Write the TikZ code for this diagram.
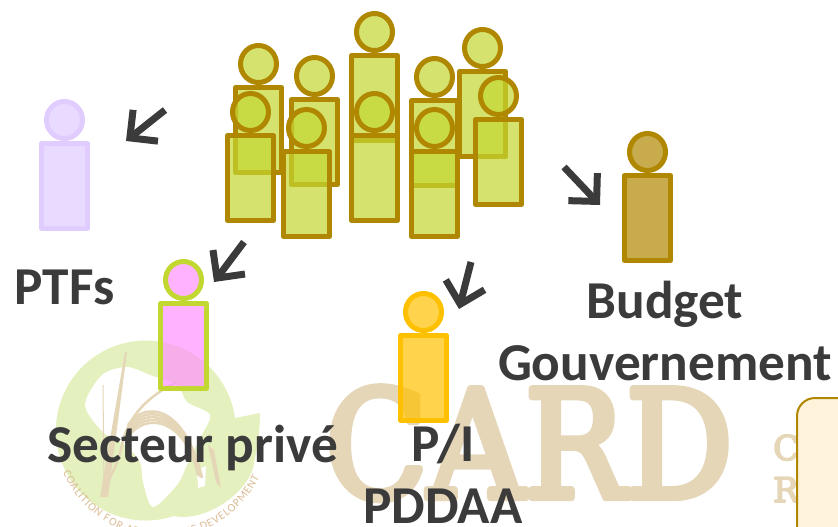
\documentclass[tikz,border=0pt]{standalone}
\usepackage{fontspec}
\setmainfont{Carlito}
\newfontfamily\cardfont{DejaVu Serif}[FakeBold=5]
\usetikzlibrary{arrows.meta,positioning,shapes.geometric,decorations.text}
\definecolor{darktext}{HTML}{3B3B3B}
\definecolor{tan}{HTML}{E5D6B8}
\definecolor{logogreen}{HTML}{E4F0BE}
\definecolor{olive}{HTML}{AF8700}
\definecolor{lime}{HTML}{C3D731}
\definecolor{lilac}{HTML}{E0CCFF}
\definecolor{pinkfill}{HTML}{FF92FF}
\definecolor{amber}{HTML}{FFC000}
\definecolor{boxfill}{HTML}{FFF3DC}

\begin{document}
\begin{tikzpicture}[x=1pt,y=-1pt,line join=round]
	  \tikzset{body/.style={rectangle,draw=#1,line width=5pt,inner sep=0pt,minimum width=46pt,minimum height=85pt,fill opacity=0.7}}
	  \tikzset{head/.style={ellipse,draw=#1,line width=5pt,inner sep=0pt,minimum width=36pt,minimum height=37pt,fill opacity=0.7}}
	  \tikzset{label/.style={font=\fontsize{53.3}{62}\selectfont\bfseries,text=darktext,align=center,inner sep=0pt}}
	  \tikzset{arrow/.style={-{Straight Barb[length=20pt,width=40pt]},line width=7pt,draw=darktext}}
	  \useasboundingbox (0,0) rectangle (838,527);

	  % logo
	  \fill[logogreen] (235,418) arc[start angle=8,end angle=288,radius=90pt]
	  .. controls (205,522) and (245,495) .. (253,468) .. controls (257,450) and (260,430) .. (260,413) -- cycle;
	  \fill[white] plot[smooth cycle,tension=0.5] coordinates {(102,375) (127,367) (150,375) (177,385) (187,402) (210,415) (200,438) (187,465) (177,485) (153,507) (143,482) (140,462) (125,445) (103,432) (85,405)};
	  \fill[white] (197,470) -- (206,466) -- (205,486) -- (198,488) -- cycle;
	  \fill[tan] (125,352) -- (127,352) -- (108,497) -- (100,497) -- cycle;
	  \draw[tan,line width=1pt] (103,385) -- (104,490);
	  \draw[tan,line width=2.5pt] (177,382) .. controls (150,395) and (128,415) .. (122,445) .. controls (118,465) and (108,480) .. (104,492);
	  \foreach \off in {0,3,6,9,12}
	  \draw[tan,line width=2.5pt] (128,{425+\off}) .. controls (145,{400+\off}) and (185,{405+\off}) .. ({202-\off/3},{478-\off/4});
	  \fill[tan] (208,445) -- (214,450) -- (221,488) -- (216,482) -- cycle;
	  \path[decorate,decoration={text along path,text align=fit to path,
	  text={|\fontsize{11.5}{11.5}\selectfont\color{tan!70!brown}|COALITION FOR AFRICAN RICE DEVELOPMENT}}]
	  (63,472) arc[start angle=203,end angle=334,radius=108pt];

	  \node[anchor=base west,font=\cardfont\fontsize{149}{149}\selectfont,text=tan,inner sep=0pt,xscale=0.9,transform shape] (card) at (325,497.5) {CARD};
	  \node[anchor=base west,font=\cardfont\fontsize{34}{34}\selectfont,text=tan,inner sep=0pt] (cardC) at (773,460) {C};
	  \node[anchor=base west,font=\cardfont\fontsize{34}{34}\selectfont,text=tan,inner sep=0pt] (cardR) at (773,502) {R};
	  \draw[olive,line width=2pt,fill=boxfill,rounded corners=18pt] (797,580) -- (797,398) -- (880,398) -- (880,580) -- cycle;

	  % groupe
	  \foreach \name/\x/\y in {a/258.5/130,b/314.5/142,c/374.5/98,d/434.5/143,e/482.5/114,f/250.5/178,g/306.5/194,h/374.5/178,i/434.5/194,j/498.5/162}{
	  \node[body=olive,fill=lime] (\name) at (\x,\y) {};
	  \node[head=olive,fill=lime] (\name head) [above=0pt of \name] {};
	  }

	  % acteurs
	  \node[body=lilac,fill=lilac] (ptf) at (64.5,186) {};
	  \node[head=lilac,fill=lilac] (ptf head) [above=0pt of ptf] {};
	  \node[body=lime,fill=pinkfill] (prive) at (183.5,346) {};
	  \node[head=lime,fill=pinkfill] (prive head) [above=0pt of prive] {};
	  \node[body=amber,fill=amber] (pi) at (423.5,378) {};
	  \node[head=amber,fill=amber] (pi head) [above=0pt of pi] {};
	  \node[body=olive,fill=olive] (budget) at (647.5,218) {};
	  \node[head=olive,fill=olive] (budget head) [above=0pt of budget] {};

	  \node[label,anchor=base] (ptflabel) at (64.5,304) {PTFs};
	  \node[label,anchor=base] (privelabel) at (192.5,462) {Secteur privé};
	  \node[label] (pilabel) at (443,474) {P/I\\PDDAA};
	  \node[label] (budgetlabel) at (665,331) {Budget\\Gouvernement};

	  \coordinate (from ptf) at (165,110);
	  \coordinate (to ptf) at (126,141);
	  \coordinate (from prive) at (244,242);
	  \coordinate (to prive) at (214,282);
	  \coordinate (from pi) at (471,262);
	  \coordinate (to pi) at (459,309);
	  \coordinate (from budget) at (564,167);
	  \coordinate (to budget) at (600,205);
	  \draw[arrow] (from ptf) -- (to ptf);
	  \draw[arrow] (from prive) -- (to prive);
	  \draw[arrow] (from pi) -- (to pi);
	  \draw[arrow] (from budget) -- (to budget);
	\end{tikzpicture}
\end{document}
